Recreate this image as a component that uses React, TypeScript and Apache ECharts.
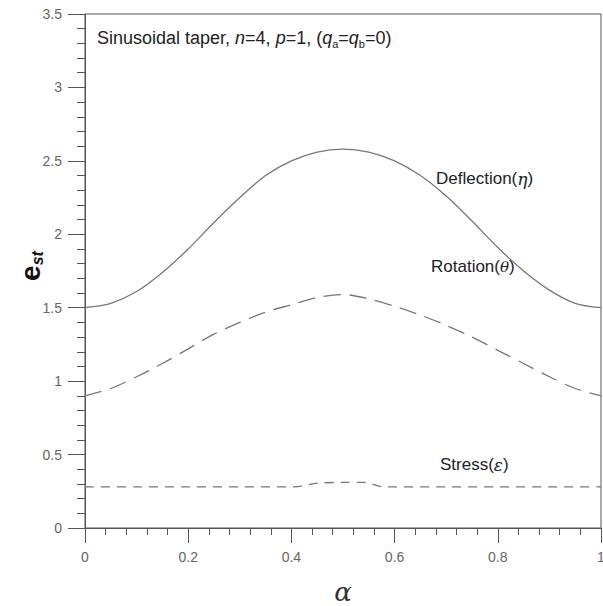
import React, { useEffect, useRef } from "react";
import * as echarts from "echarts";

const alphaDef = [0, 0.05, 0.1, 0.15, 0.2, 0.25, 0.3, 0.35, 0.4, 0.45, 0.5, 0.55, 0.6, 0.65, 0.7, 0.75, 0.8, 0.85, 0.9, 0.95, 1];
const deflection = [1.5, 1.53, 1.61, 1.74, 1.9, 2.08, 2.25, 2.4, 2.5, 2.56, 2.58, 2.56, 2.5, 2.4, 2.26, 2.09, 1.91, 1.75, 1.62, 1.53, 1.5];
const rotation = [0.9, 0.95, 1.03, 1.12, 1.22, 1.32, 1.4, 1.47, 1.52, 1.57, 1.59, 1.56, 1.51, 1.45, 1.38, 1.3, 1.21, 1.12, 1.03, 0.95, 0.9];
const alphaStress = [0, 0.1, 0.2, 0.3, 0.4, 0.42, 0.45, 0.5, 0.54, 0.58, 0.6, 0.7, 0.8, 0.9, 1];
const stress = [0.28, 0.28, 0.28, 0.28, 0.28, 0.285, 0.305, 0.31, 0.31, 0.28, 0.28, 0.28, 0.28, 0.28, 0.28];
const xTicks = ["0", "0.2", "0.4", "0.6", "0.8", "1"];
const yTicks = ["0", "0.5", "1", "1.5", "2", "2.5", "3", "3.5"];

const pair = (xs: number[], ys: number[]) => xs.map((x, i) => [x, ys[i]]);

export default function App() {
  const ref = useRef<HTMLDivElement>(null);
  useEffect(() => {
    if (!ref.current) return;
    const chart = echarts.init(ref.current, null, { renderer: "svg" });
    const axisColor = "#555";
    const lineColor = "#777";
    const font = "Liberation Sans, Arial, sans-serif";
    chart.setOption({
      animation: false,
      backgroundColor: "#fff",
      grid: { left: 85, right: 2, top: 14, bottom: 78, show: true, borderColor: axisColor, borderWidth: 1, containLabel: false, outerBoundsMode: "none" },
      xAxis: {
        type: "value", min: 0, max: 1, interval: 0.2,
        axisLine: { show: true, lineStyle: { color: axisColor, width: 1 } },
        axisTick: { show: true, inside: false, length: 15, lineStyle: { color: axisColor } },
        minorTick: { show: true, splitNumber: 5, length: 7, lineStyle: { color: axisColor } },
        splitLine: { show: false },
        axisLabel: { margin: 22, color: "#666", fontSize: 14, fontFamily: font,
          formatter: (v: number) => xTicks[Math.round(v / 0.2)] ?? "" },
        name: "\u03B1", nameLocation: "middle", nameGap: 51,
        nameTextStyle: { fontSize: 26, fontStyle: "italic", fontFamily: "DejaVu Serif, serif", color: "#333" },
      },
      yAxis: {
        type: "value", min: 0, max: 3.5, interval: 0.5,
        axisLine: { show: true, lineStyle: { color: axisColor, width: 1 } },
        axisTick: { show: true, inside: false, length: 17, lineStyle: { color: axisColor } },
        minorTick: { show: true, splitNumber: 5, length: 8, lineStyle: { color: axisColor } },
        splitLine: { show: false },
        axisLabel: { margin: 23, color: "#666", fontSize: 14, fontFamily: font,
          formatter: (v: number) => yTicks[Math.round(v / 0.5)] ?? "" },
      },
      series: [
        { type: "line", data: pair(alphaDef, deflection), showSymbol: false, smooth: 0.3,
          lineStyle: { color: lineColor, width: 1.3, type: "solid" } },
        { type: "line", data: pair(alphaDef, rotation), showSymbol: false, smooth: 0.3,
          lineStyle: { color: lineColor, width: 1.3, type: [17, 9] } },
        { type: "line", data: pair(alphaStress, stress), showSymbol: false, smooth: 0.3,
          lineStyle: { color: lineColor, width: 1.3, type: [9, 7] } },
      ],
      graphic: [
        {
          type: "text", left: 97, top: 29,
          style: {
            text: "{n|Sinusoidal taper, }{i|n}{n|=4, }{i|p}{n|=1, (}{i|q}{s|a}{n|=}{i|q}{s|b}{n|=0)}",
            rich: {
              n: { fontSize: 18, fontFamily: font, fill: "#222", lineHeight: 22 },
              i: { fontSize: 18, fontFamily: font, fontStyle: "italic", fill: "#222", lineHeight: 22 },
              s: { fontSize: 11, fontFamily: font, fill: "#222", lineHeight: 12, verticalAlign: "bottom" },
            },
          },
        },
        {
          type: "text", x: 30, y: 266, rotation: Math.PI / 2,
          style: {
            text: "{e|e}{s|st}", align: "center", verticalAlign: "middle",
            rich: {
              e: { fontSize: 28, fontWeight: "bold", fontFamily: font, fill: "#111", lineHeight: 30 },
              s: { fontSize: 16, fontWeight: "bold", fontStyle: "italic", fontFamily: font, fill: "#111", lineHeight: 16, verticalAlign: "bottom" },
            },
          },
        },
        {
          type: "text", left: 436, top: 170,
          style: {
            text: "{n|Deflection(}{g|\u03B7}{n|)}",
            rich: {
              n: { fontSize: 17, fontFamily: font, fill: "#222", lineHeight: 22 },
              g: { fontSize: 17, fontFamily: "DejaVu Serif, serif", fontStyle: "italic", fill: "#222", lineHeight: 22 },
            },
          },
        },
        {
          type: "text", left: 431, top: 258,
          style: {
            text: "{n|Rotation(}{g|\u03B8}{n|)}",
            rich: {
              n: { fontSize: 17, fontFamily: font, fill: "#222", lineHeight: 22 },
              g: { fontSize: 15, fontFamily: "DejaVu Serif, serif", fontStyle: "italic", fill: "#222", lineHeight: 22 },
            },
          },
        },
        {
          type: "text", left: 440, top: 456,
          style: {
            text: "{n|Stress(}{g|\u03B5}{n|)}",
            rich: {
              n: { fontSize: 17, fontFamily: font, fill: "#222", lineHeight: 22 },
              g: { fontSize: 17, fontFamily: "DejaVu Serif, serif", fontStyle: "italic", fill: "#222", lineHeight: 22 },
            },
          },
        },
      ],
    });
    return () => chart.dispose();
  }, []);
  return <div ref={ref} style={{ position: "fixed", left: 0, top: 0, width: 603, height: 606 }} />;
}
